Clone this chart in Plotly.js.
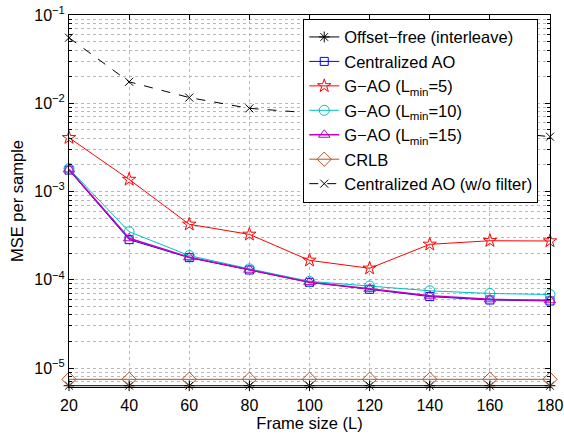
<!DOCTYPE html>
<html>
<head>
<meta charset="utf-8">
<script src="https://cdn.plot.ly/plotly-3.0.1.min.js"></script>
<style>html,body{margin:0;padding:0;background:#fff;}#chart{width:564px;height:438px;}</style>
</head>
<body>
<div id="chart"></div>
<script>
const frameSize = [20, 40, 60, 80, 100, 120, 140, 160, 180];
const offsetFree = [6.3e-6, 6.3e-6, 6.3e-6, 6.3e-6, 6.3e-6, 6.3e-6, 6.3e-6, 6.3e-6, 6.3e-6];
const centralizedAO = [1.75e-3, 2.85e-4, 1.78e-4, 1.29e-4, 9.35e-5, 7.8e-5, 6.45e-5, 5.9e-5, 5.75e-5];
const gao5 = [4.07e-3, 1.37e-3, 4.25e-4, 3.27e-4, 1.66e-4, 1.35e-4, 2.52e-4, 2.77e-4, 2.75e-4];
const gao10 = [1.82e-3, 3.5e-4, 1.88e-4, 1.33e-4, 9.6e-5, 8.5e-5, 7.5e-5, 7.0e-5, 6.8e-5];
const gao15 = [1.78e-3, 2.95e-4, 1.8e-4, 1.3e-4, 9.4e-5, 7.9e-5, 6.6e-5, 6.0e-5, 5.85e-5];
const crlb = [7.45e-6, 7.45e-6, 7.45e-6, 7.45e-6, 7.45e-6, 7.45e-6, 7.45e-6, 7.45e-6, 7.45e-6];
const noFilter = [5.53e-2, 1.75e-2, 1.16e-2, 8.75e-3, 7.8e-3, 6.6e-3, 5.6e-3, 4.9e-3, 4.18e-3];

const seriesNames = [
  'Offset\u2212free (interleave)',
  'Centralized AO',
  'G\u2212AO (L<sub>min</sub>=5)',
  'G\u2212AO (L<sub>min</sub>=10)',
  'G\u2212AO (L<sub>min</sub>=15)',
  'CRLB',
  'Centralized AO (w/o filter)'
];
const xTickVals = [20, 40, 60, 80, 100, 120, 140, 160, 180];
const yTickVals = [1e-5, 1e-4, 1e-3, 1e-2, 1e-1];
const yTickText = ['10<sup>\u22125</sup>', '10<sup>\u22124</sup>', '10<sup>\u22123</sup>', '10<sup>\u22122</sup>', '10<sup>\u22121</sup>'];

function tr(y, name, color, symbol, size, dash, width) {
  return {
    x: frameSize, y: y, name: name, type: 'scatter', mode: 'lines+markers',
    cliponaxis: false,
    line: {color: color, width: width || 1, dash: dash || 'solid'},
    marker: {symbol: symbol, size: size, color: color, line: {color: color, width: 1}}
  };
}

const data = [
  tr(offsetFree, seriesNames[0], '#000000', 'asterisk-open', 9),
  tr(centralizedAO, seriesNames[1], '#0000ff', 'square-open', 8),
  tr(gao5, seriesNames[2], '#ff0000', 'star-open', 10),
  tr(gao10, seriesNames[3], '#00bfbf', 'circle-open', 10),
  tr(gao15, seriesNames[4], '#bf00bf', 'triangle-up-open', 10, 'solid', 1.5),
  tr(crlb, seriesNames[5], '#b5501c', 'diamond-open', 11),
  tr(noFilter, seriesNames[6], '#000000', 'x-thin-open', 8, 'dash')
];

const gridCol = '#b8b8b8';
const layout = {
  width: 564, height: 438,
  margin: {l: 69, r: 14, t: 15, b: 51, pad: 0},
  paper_bgcolor: '#fff', plot_bgcolor: '#fff',
  font: {family: 'Liberation Sans, Arial, sans-serif', size: 16, color: '#000'},
  showlegend: true,
  legend: {
    x: 0.487, y: 0.99, xanchor: 'left', yanchor: 'top',
    bgcolor: '#fff', bordercolor: '#000', borderwidth: 1,
    font: {size: 16.5}, tracegroupgap: 0
  },
  xaxis: {
    range: [20, 180], tickvals: xTickVals, ticktext: xTickVals.map(String),
    ticks: 'inside', ticklen: 5, tickcolor: '#000', tickfont: {size: 16},
    ticklabelstandoff: 4,
    showline: true, linecolor: '#000', linewidth: 1, mirror: 'ticks',
    showgrid: true, gridcolor: gridCol, griddash: 'dot', gridwidth: 1,
    zeroline: false,
    title: {text: 'Frame size (L)', font: {size: 16.5}, standoff: 2}
  },
  yaxis: {
    type: 'log', range: [-5.215, -1],
    tickvals: yTickVals, ticktext: yTickText, tickfont: {size: 16},
    ticks: 'inside', ticklen: 5, tickcolor: '#000',
    showline: true, linecolor: '#000', linewidth: 1, mirror: 'ticks',
    showgrid: true, gridcolor: gridCol, griddash: 'dot', gridwidth: 1,
    zeroline: false,
    minor: {dtick: 'D1', ticks: 'inside', ticklen: 3, tickcolor: '#000', showgrid: true, gridcolor: gridCol, griddash: 'dot', gridwidth: 1},
    title: {text: 'MSE per sample', font: {size: 16.5}, standoff: 6}
  }
};

Plotly.newPlot('chart', data, layout, {staticPlot: true, displayModeBar: false});
</script>
</body>
</html>
